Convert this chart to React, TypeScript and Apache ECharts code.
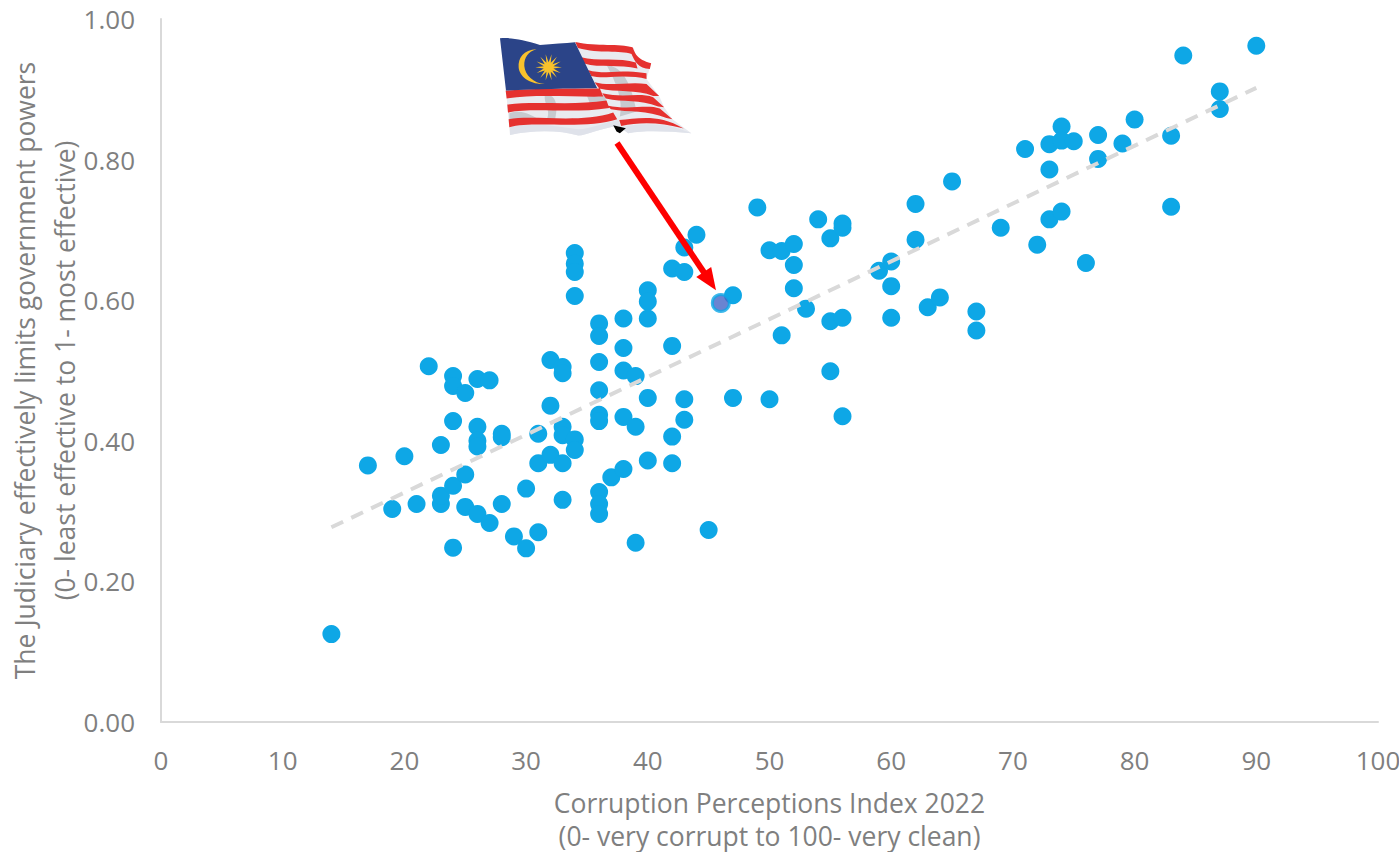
import React, { useEffect, useRef } from "react";
import * as echarts from "echarts";

const corruptionIndex = [14,17,19,20,21,22,23,23,23,24,24,24,24,24,25,25,25,26,26,26,26,26,27,27,28,28,28,29,30,30,31,31,31,32,32,32,33,33,33,33,33,33,34,34,34,34,34,34,36,36,36,36,36,36,36,36,36,37,38,38,38,38,38,39,39,39,40,40,40,40,40,42,42,42,42,43,43,43,43,44,45,47,47,49,50,50,51,51,52,52,52,53,54,55,55,55,56,56,56,56,59,60,60,60,62,62,63,64,65,67,67,69,71,72,73,73,73,74,74,74,75,76,77,77,79,80,83,83,84,87,87,90];
const judiciaryScore = [.125,.365,.303,.378,.31,.506,.394,.31,.322,.492,.478,.428,.336,.248,.468,.352,.306,.488,.42,.4,.392,.296,.486,.283,.41,.405,.31,.264,.247,.332,.41,.368,.27,.515,.45,.38,.505,.496,.42,.408,.368,.316,.667,.652,.64,.606,.402,.387,.567,.549,.512,.472,.437,.428,.327,.31,.296,.348,.574,.532,.5,.434,.36,.492,.42,.255,.614,.598,.574,.461,.372,.645,.535,.406,.368,.675,.64,.459,.43,.693,.273,.607,.461,.732,.671,.459,.67,.55,.68,.65,.617,.588,.715,.688,.57,.499,.709,.703,.575,.435,.642,.655,.62,.575,.737,.686,.59,.604,.769,.584,.557,.703,.815,.679,.822,.786,.715,.847,.827,.726,.826,.653,.835,.801,.823,.857,.834,.733,.948,.897,.872,.962];
const malaysia = [46, 0.596];
const trendX = [14, 90];
const trendY = [0.277, 0.902];
const arrowFrom = [37.47, 0.8236];
const arrowTo = [45.1, 0.627];
const xAxisTitle = "Corruption Perceptions Index 2022\n(0- very corrupt to 100- very clean)";
const yAxisTitle = "The Judiciary effectively limits government powers\n(0- least effective to 1- most effective)";

const FONT = '"Open Sans", sans-serif';
const GREY = "#7f7f7f";
const TITLE_SIZE = 26.5;
const TICK_SIZE = 26;

// Flag outlines, in a local space three times finer than the page.
const CANTON = "M30 55C60 52 100 58 150 75C190 72 225 70 255 67L322 205C230 205 130 208 48 212Z";
const STRIPE_BASE = "M255 67C320 80 400 70 432 85L445 128L484 130L470 177L508 228L523 262L548 298L605 340C540 335 470 330 415 340L385 318C330 325 290 345 265 347C210 330 130 330 60 345L48 212C130 208 230 205 322 205Z";
const RED_STRIPES = [
  "M256 66C320 80 390 70 428 82C436 100 440 118 484 130L480 147C445 145 435 125 425 102C390 90 330 102 264 84Z",
  "M274 112C320 125 390 112 438 128L443 146C390 132 330 146 283 131Z",
  "M294 150C340 165 400 150 445 157L470 160L470 177C440 170 400 168 350 172C330 173 315 170 304 168Z",
  "M314 187C360 200 420 184 470 192L508 228L490 228C440 208 380 218 328 206Z",
  "M47 212C130 204 230 205 330 206L340 230C250 232 130 222 50 236Z",
  "M337 220C400 235 450 217 490 232L523 262L505 260C450 238 400 248 348 236Z",
  "M52 254C130 242 250 258 350 242L358 264C250 282 130 262 54 278Z",
  "M352 257C420 272 470 252 510 266L548 298L530 294C470 270 420 278 363 268Z",
  "M56 298C130 284 270 312 370 278L382 298C290 330 130 302 58 322Z",
  "M388 300C440 298 500 278 582 326C510 306 450 306 394 318Z",
];
const FOLD_SHADOW = "M165 225C200 222 205 260 195 300L170 300C185 270 160 250 165 225ZM350 135C390 140 420 170 440 275L390 290C400 240 380 190 350 135ZM58 280C100 265 130 290 150 300L58 298ZM290 225L345 225L350 250L300 250Z";
const BOTTOM_HEM = "M60 322C130 304 200 320 265 328C300 328 350 305 385 300L395 322C470 305 540 312 605 340C540 335 470 330 415 340L385 318C330 325 290 345 265 347C210 330 130 330 60 345Z";
const CLASP = "M370 316L408 325L390 340L380 335Z";
const CRESCENT = "M140 88C100 90 84 115 86 142C88 170 120 195 165 192C130 190 105 165 103 138C102 112 115 95 140 88Z";

const RAY_COUNT = 14;
const STAR = (() => {
  let d = "";
  for (let i = 0; i < RAY_COUNT * 2; i++) {
    const a = (Math.PI * i) / RAY_COUNT;
    const r = i % 2 === 0 ? 40 : 15;
    d += `${i === 0 ? "M" : "L"}${(176 + r * Math.cos(a)).toFixed(1)} ${(142 + r * Math.sin(a)).toFixed(1)}`;
  }
  return d + "Z";
})();

function registerFlagShapes() {
  const shapes: Record<string, string> = {
    flagCanton: CANTON,
    flagBase: STRIPE_BASE,
    flagRed: RED_STRIPES.join(""),
    flagFold: FOLD_SHADOW,
    flagHem: BOTTOM_HEM,
    flagClasp: CLASP,
    flagCrescent: CRESCENT,
    flagStar: STAR,
  };
  Object.entries(shapes).forEach(([name, d]) => {
    echarts.graphic.registerShape(name, echarts.graphic.extendPath(d, {}) as any);
  });
}

export default function App() {
  const ref = useRef<HTMLDivElement>(null);

  useEffect(() => {
    document.body.style.margin = "0";
    registerFlagShapes();
    const chart = echarts.init(ref.current!, undefined, { renderer: "svg" });
    const axisCommon = {
      nameLocation: "middle" as const,
      nameMoveOverlap: false,
      axisLine: { show: true, onZero: false, lineStyle: { color: "#d9d9d9", width: 2 } },
      axisTick: { show: false },
      splitLine: { show: false },
    };
    const flagPart = (shape: string, fill: string, opacity = 1) => ({
      type: shape,
      style: { fill, opacity },
      silent: true,
    });
    chart.setOption({
      animation: false,
      backgroundColor: "#ffffff",
      grid: { left: 161, right: 21, top: 19, bottom: 130, outerBoundsMode: "none" },
      xAxis: {
        ...axisCommon,
        type: "value",
        min: 0,
        max: 100,
        interval: 10,
        name: xAxisTitle,
        nameGap: 64,
        nameTextStyle: { fontFamily: FONT, fontSize: TITLE_SIZE, color: GREY, lineHeight: 33 },
        axisLabel: { fontFamily: FONT, fontSize: TICK_SIZE, color: GREY, margin: 25 },
      },
      yAxis: {
        ...axisCommon,
        type: "value",
        min: 0,
        max: 1,
        interval: 0.2,
        name: yAxisTitle,
        nameGap: 76,
        nameTextStyle: { fontFamily: FONT, fontSize: TITLE_SIZE, color: GREY, lineHeight: 40 },
        axisLabel: {
          fontFamily: FONT,
          fontSize: TICK_SIZE,
          color: GREY,
          margin: 26,
          formatter: (v: number) => v.toFixed(2),
        },
      },
      series: [
        {
          type: "scatter",
          symbolSize: 18,
          itemStyle: { color: "#0ea7e6", opacity: 1 },
          data: corruptionIndex.map((x, i) => [x, judiciaryScore[i]]),
          z: 2,
        },
        {
          type: "line",
          showSymbol: false,
          symbol: "none",
          lineStyle: { color: "#d9d9d9", width: 4, type: [13, 9] },
          data: trendX.map((x, i) => [x, trendY[i]]),
          z: 3,
        },
        {
          type: "scatter",
          symbolSize: 17,
          itemStyle: { color: "#4565c6", borderColor: "#0ea7e6", borderWidth: 3 },
          data: [malaysia],
          z: 4,
        },
        {
          type: "scatter",
          symbolSize: 0,
          data: [],
          z: 5,
          markLine: {
            silent: true,
            animation: false,
            symbol: ["none", "triangle"],
            symbolSize: [18, 22],
            label: { show: false },
            lineStyle: { color: "#fe0000", width: 6, type: "solid", opacity: 1 },
            data: [[{ coord: arrowFrom }, { coord: arrowTo }]],
          },
        },
      ],
      graphic: [
        {
          type: "group",
          x: 490,
          y: 20,
          scaleX: 1 / 3,
          scaleY: 1 / 3,
          silent: true,
          children: [
            flagPart("flagBase", "#e9ebf0"),
            flagPart("flagFold", "#b8bcc0", 0.7),
            flagPart("flagHem", "#dfe2ea"),
            flagPart("flagRed", "#e5312f"),
            flagPart("flagCanton", "#2b4488"),
            flagPart("flagCrescent", "#f9c22c"),
            flagPart("flagStar", "#f9c22c"),
            flagPart("flagClasp", "#000000"),
          ],
        },
      ],
    });
    return () => chart.dispose();
  }, []);

  return <div ref={ref} style={{ width: 1399, height: 852 }} />;
}
